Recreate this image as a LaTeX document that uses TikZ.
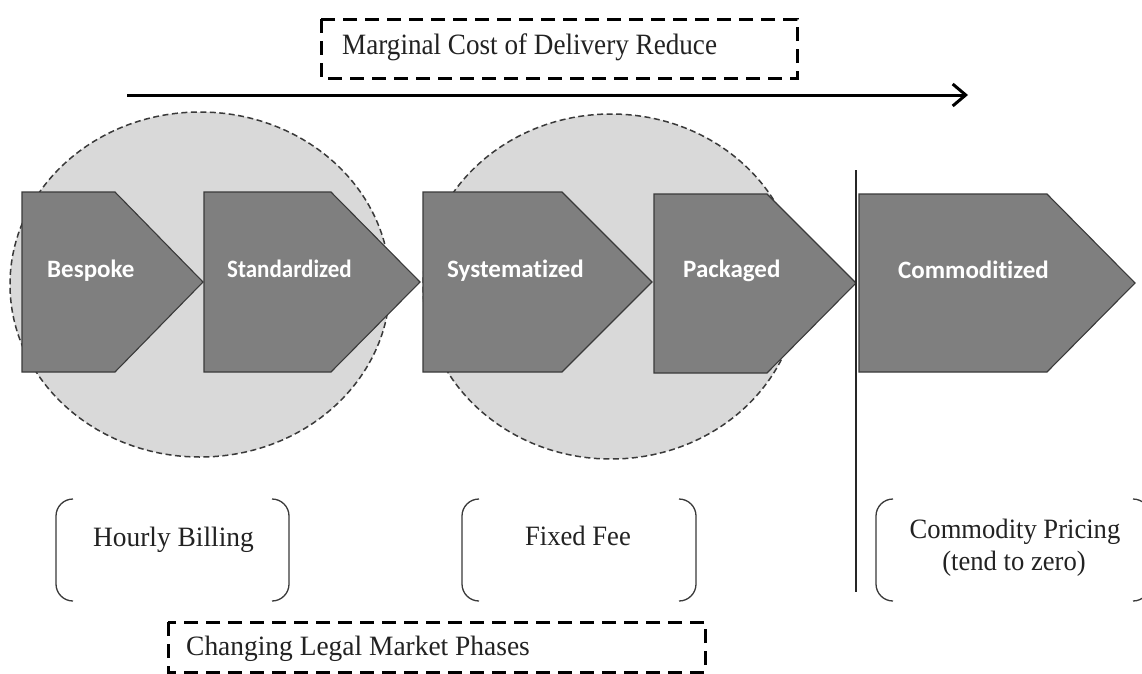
\documentclass[tikz,border=0pt]{standalone}
\usepackage{fontspec}
\setmainfont{Liberation Serif}
\newfontfamily\labelfont[Ligatures=NoCommon]{Carlito}
\usetikzlibrary{arrows.meta}
\newcommand{\sxtext}[2]{\scalebox{#1}[1]{#2}}
\definecolor{arrowgray}{HTML}{7F7F7F}
\definecolor{edgegray}{HTML}{3A3A3A}
\definecolor{phasegray}{HTML}{D9D9D9}
\definecolor{inkc}{HTML}{222222}
\tikzset{
  phasezone/.style={fill=phasegray, draw=edgegray, line width=1.5pt, dash pattern=on 6pt off 3.5pt},
  stagebox/.style={fill=arrowgray, draw=edgegray, line width=1.1pt, line join=miter},
  stagelabel/.style={anchor=base west, inner sep=0pt, text=white, font=\labelfont\bfseries\fontsize{25}{29}\selectfont},
  titlebox/.style={draw=black, line width=3pt, dash pattern=on 14pt off 8pt},
  serifttl/.style={inner sep=0pt, text=inkc, font=\fontsize{29.5}{34}\selectfont},
  pricelabel/.style={inner sep=0pt, text=inkc, align=center, font=\fontsize{28}{32}\selectfont},
  bracket/.style={draw=edgegray, line width=1.3pt, rounded corners=17pt},
  mainarrow/.style={draw=black, line width=3pt, -{Straight Barb[length=13pt,width=22pt,line width=3pt]}},
  divider/.style={draw=black!85, line width=1.5pt}
}
\begin{document}
\begin{tikzpicture}[x=1pt,y=-1pt]
\useasboundingbox (0,0) rectangle (1142,673);
\fill[white] (0,0) rectangle (1142,673);

% top title box and arrow
\draw[titlebox] (321,19) rectangle (797,78);
\node[serifttl, anchor=base west] (marginal) at (342,54) {\sxtext{0.92}{Marginal Cost of Delivery Reduce}};
\coordinate (arrS) at (127,95);
\coordinate (arrE) at (968,95);
\draw[mainarrow] (arrS) -- (arrE);

% phase zones
\draw[phasezone] (200,284.5) ellipse [x radius=190, y radius=172.5];
\draw[phasezone] (611,286.5) ellipse [x radius=188, y radius=172.5];

% stages
\draw[stagebox] (22,192) -- (115,192) -- (203,282) -- (115,372) -- (22,372) -- cycle;
\draw[stagebox] (204,192) -- (331,192) -- (420,282) -- (331,372) -- (204,372) -- cycle;
\draw[stagebox] (423,192) -- (562,192) -- (652,282) -- (562,372) -- (423,372) -- cycle;
\draw[stagebox] (654,194) -- (767,194) -- (856,283) -- (767,373) -- (654,373) -- cycle;
\draw[stagebox] (859,194) -- (1047,194) -- (1135,283) -- (1047,372) -- (859,372) -- cycle;

\node[stagelabel] (bespoke) at (47,277) {Bespoke};
\node[stagelabel] (standard) at (227,277) {\sxtext{0.92}{Standardized}};
\node[stagelabel] (system) at (447,277) {Systematized};
\node[stagelabel] (packaged) at (683,277) {Packaged};
\node[stagelabel] (commod) at (898,278) {Commoditized};

% divider
\coordinate (divT) at (856,170);
\coordinate (divB) at (856,592);
\draw[divider] (divT) -- (divB);

% pricing brackets
\draw[bracket] (73,499) -- (56,499) -- (56,601) -- (73,601);
\draw[bracket] (272,499) -- (289,499) -- (289,601) -- (272,601);
\draw[bracket] (479,499) -- (462,499) -- (462,601) -- (479,601);
\draw[bracket] (679,499) -- (696,499) -- (696,601) -- (679,601);
\draw[bracket] (893,499) -- (876,499) -- (876,601) -- (893,601);
\draw[bracket] (1133,499) -- (1150,499) -- (1150,601) -- (1133,601);

\node[pricelabel, anchor=base] (hourly) at (173.5,546) {\sxtext{0.98}{Hourly Billing}};
\node[pricelabel, anchor=base] (fixed) at (578,545) {\sxtext{0.95}{Fixed Fee}};
\node[pricelabel, anchor=base] (cprice) at (1015,538) {\sxtext{0.95}{Commodity Pricing}};
\node[pricelabel, anchor=base] (czero) at (1014,570) {\sxtext{0.95}{(tend to zero)}};

% bottom title box
\draw[titlebox] (168,622) rectangle (705,672);
\node[serifttl, anchor=base west, font=\fontsize{28}{32}\selectfont] (phases) at (186,655) {\sxtext{0.98}{Changing Legal Market Phases}};
\end{tikzpicture}
\end{document}
